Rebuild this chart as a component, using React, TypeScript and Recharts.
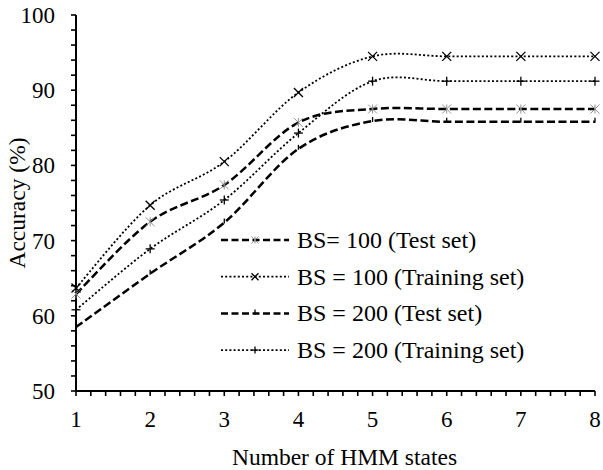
import React from 'react';
import { LineChart, Line, XAxis, YAxis, Legend, Label } from 'recharts';

const STATES = [1, 2, 3, 4, 5, 6, 7, 8];
const TEST_100 = [62.9, 72.5, 77.4, 85.7, 87.5, 87.5, 87.5, 87.5];
const TRAIN_100 = [63.7, 74.7, 80.5, 89.7, 94.5, 94.5, 94.5, 94.5];
const TEST_200 = [58.5, 65.6, 72.4, 82.2, 85.9, 85.8, 85.8, 85.8];
const TRAIN_200 = [60.8, 68.9, 75.4, 84.3, 91.2, 91.2, 91.2, 91.2];

const Y_LABELS = [50, 60, 70, 80, 90, 100];
const X_LABELS = [1, 2, 3, 4, 5, 6, 7, 8];

const FONT = 'Liberation Serif';
const tickTxt = { fontFamily: FONT, fontSize: 23 };
const titleTxt = { fontFamily: FONT, fontSize: 23.5 };
const legendTxt = { fontFamily: FONT, fontSize: 24 };

const data = STATES.map((s, i) => ({
    states: s,
    test100: TEST_100[i],
    train100: TRAIN_100[i],
    test200: TEST_200[i],
    train200: TRAIN_200[i],
}));

// minor ticks: every 2 on y, every 0.2 on x
const yTicks: number[] = [];
for (let v = 50; v <= 100; v += 2) yTicks.push(v);
const xTicks: number[] = [];
for (let i = 0; i <= 35; i++) xTicks.push(Math.round((1 + i * 0.2) * 10) / 10);

// Excel-like smoothing (uniform Catmull-Rom as cubic beziers)
const smooth = (context: any) => {
    let pts: number[][] = [];
    return {
        areaStart() {},
        areaEnd() {},
        lineStart() { pts = []; },
        lineEnd() {
            if (!pts.length) return;
            context.moveTo(pts[0][0], pts[0][1]);
            for (let i = 0; i < pts.length - 1; i++) {
                const p0 = pts[i - 1] || pts[i];
                const p1 = pts[i];
                const p2 = pts[i + 1];
                const p3 = pts[i + 2] || p2;
                context.bezierCurveTo(
                    p1[0] + (p2[0] - p0[0]) / 6, p1[1] + (p2[1] - p0[1]) / 6,
                    p2[0] - (p3[0] - p1[0]) / 6, p2[1] - (p3[1] - p1[1]) / 6,
                    p2[0], p2[1]
                );
            }
        },
        point(x: number, y: number) { pts.push([+x, +y]); },
    };
};

type Kind = 'star' | 'cross' | 'tee' | 'plus';

const Marker = ({ cx, cy, kind, s = 4.5 }: { cx: number; cy: number; kind: Kind; s?: number }) => {
    if (kind === 'cross') {
        return (
            <g stroke="#000" strokeWidth={1.3}>
                <line x1={cx - s} y1={cy - s} x2={cx + s} y2={cy + s} />
                <line x1={cx - s} y1={cy + s} x2={cx + s} y2={cy - s} />
            </g>
        );
    }
    if (kind === 'plus') {
        return (
            <g stroke="#000" strokeWidth={1.3}>
                <line x1={cx - s} y1={cy} x2={cx + s} y2={cy} />
                <line x1={cx} y1={cy - s} x2={cx} y2={cy + s} />
            </g>
        );
    }
    if (kind === 'tee') {
        return (
            <g stroke="#000" strokeWidth={1.3}>
                <line x1={cx} y1={cy - 4} x2={cx} y2={cy + 1} />
            </g>
        );
    }
    return (
        <g stroke="#888" strokeWidth={0.9}>
            <line x1={cx - s} y1={cy - s} x2={cx + s} y2={cy + s} />
            <line x1={cx - s} y1={cy + s} x2={cx + s} y2={cy - s} />
            <line x1={cx} y1={cy - s} x2={cx} y2={cy + s} />
        </g>
    );
};

const SERIES = [
    { key: 'test100', name: 'BS= 100 (Test set)', dash: '8 3.5', width: 2.5, kind: 'star' as Kind },
    { key: 'train100', name: 'BS = 100 (Training set)', dash: '2 2.2', width: 1.8, kind: 'cross' as Kind },
    { key: 'test200', name: 'BS = 200 (Test set)', dash: '8 3.5', width: 2.5, kind: 'tee' as Kind },
    { key: 'train200', name: 'BS = 200 (Training set)', dash: '2 2.2', width: 1.8, kind: 'plus' as Kind },
];

const YTick = ({ x, y, payload }: any) => (
    <g>
        <line x1={x} y1={y} x2={x - 5} y2={y} stroke="#000" strokeWidth={1.6} />
        {Y_LABELS.includes(payload.value) && (
            <text x={x - 21} y={y + 8} textAnchor="end" style={tickTxt} fill="#000">
                {payload.value}
            </text>
        )}
    </g>
);

const XTick = ({ x, y, payload }: any) => (
    <g>
        <line x1={x} y1={y} x2={x} y2={y + 5} stroke="#000" strokeWidth={1.6} />
        {X_LABELS.includes(payload.value) && (
            <text x={x} y={y + 36} textAnchor="middle" style={tickTxt} fill="#000">
                {payload.value}
            </text>
        )}
    </g>
);

const renderLegend = () => (
    <svg width={360} height={150}>
        {SERIES.map((s, i) => {
            const cy = 18 + i * 36.7;
            return (
                <g key={s.key}>
                    <line x1={3} y1={cy} x2={71} y2={cy} stroke="#000" strokeWidth={s.width} strokeDasharray={s.dash === '8 3.5' ? '7 3.5' : s.dash} />
                    <Marker cx={37} cy={cy} kind={s.kind} s={3.5} />
                    <text x={79} y={cy + 8} style={legendTxt} fill="#000">{s.name}</text>
                </g>
            );
        })}
    </svg>
);

const App: React.FC = () => {
    return (
        <div style={{ position: 'absolute', left: 0, top: 0, background: '#fff', fontFamily: FONT }}>
            <LineChart width={603} height={470} data={data} margin={{ top: 15, right: 8, left: 0, bottom: 0 }}>
                <XAxis
                    dataKey="states"
                    type="number"
                    domain={[1, 8]}
                    ticks={xTicks}
                    interval={0}
                    height={79}
                    tickSize={0}
                    tickMargin={0}
                    tick={<XTick />}
                    stroke="#000"
                    strokeWidth={2}
                    label={({ viewBox }: any) => (
                        <text x={viewBox.x + viewBox.width / 2 + 9} y={465} textAnchor="middle" style={titleTxt} fill="#000">
                            Number of HMM states
                        </text>
                    )}
                />
                <YAxis
                    type="number"
                    domain={[50, 100]}
                    ticks={yTicks}
                    interval={0}
                    width={76}
                    tickSize={0}
                    tickMargin={0}
                    tick={<YTick />}
                    stroke="#000"
                    strokeWidth={2}
                    label={({ viewBox }: any) => {
                        const cy = viewBox.y + viewBox.height / 2;
                        return (
                            <text x={17} y={cy} transform={`rotate(-90, 17, ${cy})`} textAnchor="middle" dy="0.35em" style={titleTxt} fill="#000">
                                Accuracy (%)
                            </text>
                        );
                    }}
                />
                <Legend
                    layout="vertical"
                    align="center"
                    verticalAlign="middle"
                    content={renderLegend}
                    wrapperStyle={{ left: 218, top: 222, width: 360 }}
                />
                {SERIES.map((s) => (
                    <Line
                        key={s.key}
                        dataKey={s.key}
                        name={s.name}
                        type={smooth as any}
                        stroke="#000"
                        strokeWidth={s.width}
                        strokeDasharray={s.dash}
                        dot={({ cx, cy, index }: any) => <Marker key={`${s.key}-${index}`} cx={cx} cy={cy} kind={s.kind} />}
                        activeDot={false}
                        isAnimationActive={false}
                    />
                ))}
            </LineChart>
        </div>
    );
};

export default App;
